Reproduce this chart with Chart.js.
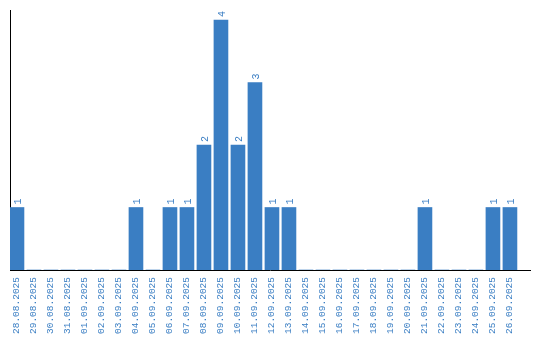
<!DOCTYPE html>
<html>
<head>
<meta charset="utf-8">
<script src="https://cdn.jsdelivr.net/npm/chart.js@4/dist/chart.umd.min.js"></script>
<style>
  html, body { margin:0; padding:0; background:#fff; }
  #wrap { width:540px; height:340px; }
</style>
</head>
<body>
<div id="wrap"><canvas id="chart" width="540" height="340"></canvas></div>
<script>

// DATA
const dates = [
    "28.08.2025","29.08.2025","30.08.2025","31.08.2025","01.09.2025","02.09.2025",
    "03.09.2025","04.09.2025","05.09.2025","06.09.2025","07.09.2025","08.09.2025",
    "09.09.2025","10.09.2025","11.09.2025","12.09.2025","13.09.2025","14.09.2025",
    "15.09.2025","16.09.2025","17.09.2025","18.09.2025","19.09.2025","20.09.2025",
    "21.09.2025","22.09.2025","23.09.2025","24.09.2025","25.09.2025","26.09.2025"
];
const counts = [
    1,0,0,0,0,0,
    0,1,0,1,1,2,
    4,2,3,1,1,0,
    0,0,0,0,0,0,
    1,0,0,0,1,1
];

const BLUE = "#3a7ec3";
const FONT = "'Liberation Mono', 'DejaVu Sans Mono', monospace";


// VALUE LABELS ABOVE BARS (rotated)
const valueLabels = {
    id:"valueLabels",
    afterDatasetsDraw(chart){
        const ctx = chart.ctx;
        const meta = chart.getDatasetMeta(0);
        ctx.save();
        ctx.fillStyle = BLUE;
        ctx.font = "10px " + FONT;
        meta.data.forEach((bar, i) => {
            const v = counts[i];
            if(!v) return;
            ctx.save();
            ctx.translate(bar.x, bar.y - 3);
            ctx.rotate(-Math.PI / 2);
            ctx.textAlign = "left";
            ctx.textBaseline = "middle";
            ctx.fillText(String(v), 0, 1);
            ctx.restore();
        });
        ctx.restore();
    }
};


new Chart(document.getElementById("chart"), {
    type:"bar",
    data:{
        datasets:[{
            data:counts.map((v, i) => ({x:i, y:v})),
            backgroundColor:BLUE,
            borderWidth:0,
            barThickness:14
        }]
    },
    options:{
        responsive:false,
        animation:false,
        layout:{ padding:{ left:10, top:10, right:10, bottom:0 } },
        plugins:{
            legend:{ display:false },
            tooltip:{ enabled:false }
        },
        scales:{
            x:{
                type:"linear",
                min:-0.41,
                max:30.18,
                offset:false,
                grid:{ display:false, drawTicks:false },
                border:{ display:true, color:"#000", width:1 },
                afterBuildTicks(scale){
                    scale.ticks = dates.map((d, i) => ({value:i}));
                },
                afterFit(scale){
                    scale.height = 70;
                },
                ticks:{
                    autoSkip:false,
                    minRotation:90,
                    maxRotation:90,
                    padding:7,
                    color:BLUE,
                    font:{ family:FONT, size:9.5 },
                    callback:(value) => dates[value] ?? ""
                }
            },
            y:{
                min:0,
                max:4.16,
                grid:{ display:false, drawTicks:false },
                border:{ display:true, color:"#000", width:1 },
                ticks:{ display:false }
            }
        }
    },
    plugins:[valueLabels]
});

</script>
</body>
</html>
